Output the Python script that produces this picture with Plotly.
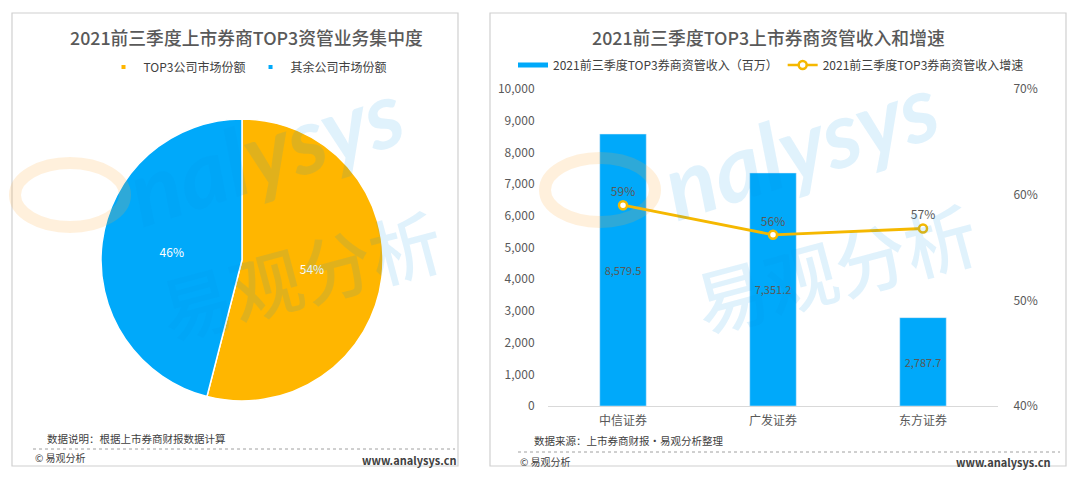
import plotly.graph_objects as go

W, H = 1080, 479
OFF = 8  # page body margin in the browser

# ---- data ----
pie_labels = ["TOP3公司市场份额", "其余公司市场份额"]
pie_values = [54, 46]

brokers = ["中信证券", "广发证券", "东方证券"]
income = [8579.5, 7351.2, 2787.7]
growth = [0.590, 0.562, 0.568]

title_left = "2021前三季度上市券商TOP3资管业务集中度"
title_right = "2021前三季度TOP3上市券商资管收入和增速"
bar_name = "2021前三季度TOP3券商资管收入（百万）"
line_name = "2021前三季度TOP3券商资管收入增速"

YELLOW = "#FFB600"
BLUE = "#00A9FA"
LINE_YELLOW = "#F5B800"
TXT = "#595959"
FONT = "Noto Sans CJK SC"


def px(x):
    return (x - OFF) / W


def py(y):
    return 1 - (y - OFF) / H


fig = go.Figure()

pie_colors = [YELLOW, BLUE]
fig.add_trace(go.Pie(
    labels=pie_labels,
    values=pie_values,
    sort=False,
    direction="clockwise",
    rotation=0,
    marker=dict(colors=pie_colors, line=dict(color="white", width=1.5)),
    textinfo="percent",
    texttemplate="%{percent:.0%}",
    textposition="inside",
    insidetextfont=dict(color="white", size=12, family=FONT),
    domain=dict(x=[px(101), px(383)], y=[py(401), py(119)]),
    showlegend=False,
    hoverinfo="label+percent",
))

fig.add_trace(go.Bar(
    x=brokers,
    y=income,
    name=bar_name,
    marker_color=BLUE,
    width=0.31,
    text=[f"{v:,.1f}" for v in income],
    textposition="inside",
    insidetextanchor="middle",
    textfont=dict(color=TXT, size=11, family=FONT),
    showlegend=False,
    xaxis="x",
    yaxis="y",
))

fig.add_trace(go.Scatter(
    x=brokers,
    y=growth,
    name=line_name,
    mode="lines+markers+text",
    line=dict(color=LINE_YELLOW, width=2.8),
    marker=dict(size=8, color="white", line=dict(color=LINE_YELLOW, width=2.5)),
    text=[f"{v:.0%}" for v in growth],
    textposition="top center",
    textfont=dict(color=TXT, size=12, family=FONT),
    showlegend=False,
    xaxis="x",
    yaxis="y2",
))

# legend-only entries (small dots for the pie, wide bar icon for the bars)
for lab, col in zip(pie_labels, pie_colors):
    fig.add_trace(go.Scatter(
        x=[None], y=[None], mode="markers", name=lab,
        marker=dict(symbol="square", size=4, color=col),
        legend="legend2", xaxis="x", yaxis="y",
    ))
fig.add_trace(go.Scatter(
    x=[None], y=[None], mode="lines", name=bar_name,
    line=dict(color=BLUE, width=5), xaxis="x", yaxis="y",
))
fig.add_trace(go.Scatter(
    x=[None], y=[None], mode="lines+markers", name=line_name,
    line=dict(color=LINE_YELLOW, width=2.5),
    marker=dict(size=8, color="white", line=dict(color=LINE_YELLOW, width=2.5)),
    xaxis="x", yaxis="y2",
))

fig.update_layout(
    width=W,
    height=H,
    autosize=False,
    margin=dict(l=0, r=0, t=0, b=0, pad=0, autoexpand=False),
    paper_bgcolor="white",
    plot_bgcolor="rgba(0,0,0,0)",
    font=dict(family=FONT, color=TXT, size=12),
    xaxis=dict(
        type="category",
        categoryorder="array",
        categoryarray=brokers,
        domain=[px(548), px(998)],
        anchor="y",
        automargin=False,
        showline=True,
        linecolor="#D9D9D9",
        linewidth=1,
        showgrid=False,
        zeroline=False,
        ticks="outside",
        ticklen=4,
        tickcolor="rgba(0,0,0,0)",
        tickfont=dict(size=12, color=TXT),
    ),
    yaxis=dict(
        domain=[py(406), py(89)],
        anchor="x",
        automargin=False,
        range=[0, 10000],
        dtick=1000,
        tickformat=",",
        showgrid=False,
        zeroline=False,
        ticks="outside",
        ticklen=10,
        tickcolor="rgba(0,0,0,0)",
        tickfont=dict(size=12, color=TXT),
    ),
    yaxis2=dict(
        overlaying="y",
        side="right",
        anchor="x",
        automargin=False,
        range=[0.4, 0.7],
        dtick=0.1,
        tickformat=".0%",
        showgrid=False,
        zeroline=False,
        ticks="outside",
        ticklen=12,
        tickcolor="rgba(0,0,0,0)",
        tickfont=dict(size=12, color=TXT),
    ),
    legend=dict(
        orientation="h",
        x=px(771), xanchor="center",
        y=py(65), yanchor="middle",
        font=dict(size=12, color="#404040"),
        bgcolor="rgba(0,0,0,0)",
        itemwidth=30,
        traceorder="normal",
    ),
    legend2=dict(
        orientation="h",
        x=px(248), xanchor="center",
        y=py(67), yanchor="middle",
        font=dict(size=12, color="#404040"),
        bgcolor="rgba(0,0,0,0)",
        itemwidth=30,
    ),
)

# ---- panel frames and footers ----
shapes = []
for x0, x1 in [(12, 458), (490, 1066)]:
    shapes.append(dict(type="rect", xref="paper", yref="paper",
                       x0=px(x0), x1=px(x1), y0=py(466), y1=py(13),
                       line=dict(color="#D0D0D0", width=1.2), layer="below"))
shapes.append(dict(type="line", xref="paper", yref="paper",
                   x0=px(33), x1=px(455), y0=py(449), y1=py(449),
                   line=dict(color="#A0A0A0", width=1, dash="dot")))
shapes.append(dict(type="line", xref="paper", yref="paper",
                   x0=px(518), x1=px(1060), y0=py(452), y1=py(452),
                   line=dict(color="#A0A0A0", width=1, dash="dot")))
# watermark swooshes (decoration)
for cx, cy in [(70, 195), (600, 190)]:
    shapes.append(dict(type="circle", xref="paper", yref="paper",
                       x0=px(cx - 55), x1=px(cx + 55), y0=py(cy + 32), y1=py(cy - 32),
                       line=dict(color="rgba(255,170,60,0.18)", width=12), layer="above"))
fig.update_layout(shapes=shapes)

ann = [
    dict(text=title_left, x=px(246), y=py(37), font=dict(size=17.8, color=TXT, weight=500)),
    dict(text=title_right, x=px(768), y=py(37), font=dict(size=17.8, color=TXT, weight=500)),
    dict(text="数据说明：根据上市券商财报数据计算", x=px(45), y=py(438), xanchor="left",
         font=dict(size=10.5, color="#404040")),
    dict(text="© 易观分析", x=px(33), y=py(457), xanchor="left",
         font=dict(size=10, color="#404040")),
    dict(text="<b>www.analysys.cn</b>", x=px(458), y=py(460), xanchor="right",
         font=dict(size=11, color="#404040")),
    dict(text="数据来源：上市券商财报·易观分析整理", x=px(532), y=py(440), xanchor="left",
         font=dict(size=10.5, color="#404040")),
    dict(text="© 易观分析", x=px(518), y=py(461), xanchor="left",
         font=dict(size=10, color="#404040")),
    dict(text="<b>www.analysys.cn</b>", x=px(1052), y=py(462), xanchor="right",
         font=dict(size=11, color="#404040")),
    # watermark
    dict(text="<b>nalysys</b>", x=px(265), y=py(150), textangle=-18,
         font=dict(size=92, color="rgba(0,150,230,0.12)", family="Lato", style="italic")),
    dict(text="易观分析", x=px(300), y=py(272), textangle=-15,
         font=dict(size=72, color="rgba(0,150,230,0.12)", weight=500)),
    dict(text="<b>nalysys</b>", x=px(800), y=py(145), textangle=-18,
         font=dict(size=92, color="rgba(0,150,230,0.12)", family="Lato", style="italic")),
    dict(text="易观分析", x=px(835), y=py(265), textangle=-15,
         font=dict(size=72, color="rgba(0,150,230,0.12)", weight=500)),
]
for a in ann:
    a.update(xref="paper", yref="paper", showarrow=False)
    a.setdefault("xanchor", "center")
    a.setdefault("yanchor", "middle")
fig.update_layout(annotations=ann)

fig.write_html("out.html")
